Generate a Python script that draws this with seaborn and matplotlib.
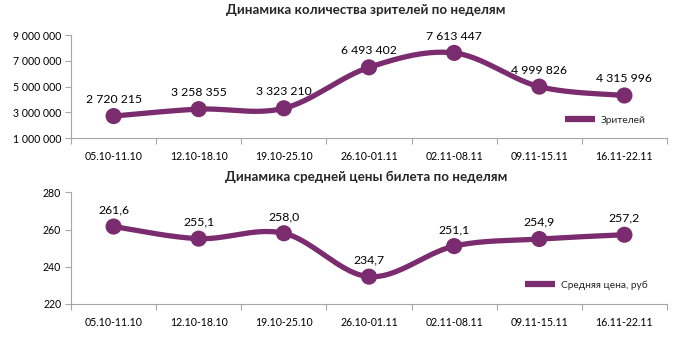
import numpy as np
import pandas as pd
import matplotlib
matplotlib.use("Agg")
import matplotlib.pyplot as plt
import seaborn as sns
from matplotlib.ticker import FuncFormatter, FixedLocator

weeks = ["05.10-11.10", "12.10-18.10", "19.10-25.10", "26.10-01.11",
         "02.11-08.11", "09.11-15.11", "16.11-22.11"]
viewers = [2720215, 3258355, 3323210, 6493402, 7613447, 4999826, 4315996]
prices = [261.6, 255.1, 258.0, 234.7, 251.1, 254.9, 257.2]

title_top = "Динамика количества зрителей по неделям"
title_bottom = "Динамика средней цены билета по неделям"
legend_top = "Зрителей"
legend_bottom = "Средняя цена, руб"

sns.set_theme(style="white")
plt.rcParams['font.family'] = ['Lato', 'DejaVu Sans']

COLOR = "#7A2C6F"
AX_COLOR = "#A6A6A6"


def catmull_rom(xs, ys, n=30):
    xs = np.asarray(xs, float)
    ys = np.asarray(ys, float)
    P = np.column_stack([xs, ys])
    P = np.vstack([P[0], P, P[-1]])
    out = []
    for i in range(1, len(P) - 2):
        p0, p1, p2, p3 = P[i - 1], P[i], P[i + 1], P[i + 2]
        t = np.linspace(0, 1, n)[:, None]
        c = 0.5 * ((2 * p1) + (-p0 + p2) * t + (2 * p0 - 5 * p1 + 4 * p2 - p3) * t ** 2
                   + (-p0 + 3 * p1 - 3 * p2 + p3) * t ** 3)
        out.append(c if i == len(P) - 3 else c[:-1])
    c = np.vstack(out)
    return c[:, 0], c[:, 1]


fig = plt.figure(figsize=(6.85, 3.38), dpi=100)
W, H = 685, 338
left, right = 71 / W, 667 / W
ax1 = fig.add_axes([left, 1 - 138.3 / H, right - left, (138.3 - 35) / H])
ax2 = fig.add_axes([left, 1 - 304 / H, right - left, (304 - 192.3) / H])


def draw(ax, vals, ylim, yticks, fmt, lab_fmt, leg, leg_pos, yoff):
    x = np.arange(len(weeks))
    sx, sy = catmull_rom(x, vals)
    curve = pd.DataFrame({"x": sx, "y": sy})
    pts = pd.DataFrame({"x": x, "y": vals})
    sns.lineplot(data=curve, x="x", y="y", ax=ax, color=COLOR, lw=3.8,
                 sort=False, estimator=None, label=leg, solid_capstyle="round")
    sns.scatterplot(data=pts, x="x", y="y", ax=ax, color=COLOR, s=135,
                    edgecolor="none", zorder=5, legend=False)
    for xi, v in zip(x, vals):
        ax.annotate(lab_fmt(v), (xi, v), xytext=(0, yoff), textcoords="offset points",
                    ha="center", va="bottom", fontsize=8.8, color="#000000")
    ax.set_xlim(-0.5, len(weeks) - 0.5)
    ax.set_ylim(*ylim)
    ax.set_yticks(yticks)
    ax.yaxis.set_major_formatter(FuncFormatter(fmt))
    ax.set_xticks(x)
    ax.set_xticklabels(weeks)
    ax.xaxis.set_minor_locator(FixedLocator(np.arange(-0.5, len(weeks), 1.0)))
    ax.tick_params(axis="x", which="major", length=0, pad=9, labelsize=7.6, colors="#000000")
    ax.tick_params(axis="x", which="minor", length=4, width=0.8, color=AX_COLOR, bottom=True)
    ax.tick_params(axis="y", length=4, width=0.8, color=AX_COLOR, labelsize=7.6,
                   labelcolor="#000000", left=True, pad=3)
    for s in ["top", "right"]:
        ax.spines[s].set_visible(False)
    for s in ["left", "bottom"]:
        ax.spines[s].set_color(AX_COLOR)
        ax.spines[s].set_linewidth(0.8)
    ax.set_xlabel("")
    ax.set_ylabel("")
    ax.grid(False)
    ax.set_facecolor("none")
    lg = ax.legend(loc="lower left", bbox_to_anchor=leg_pos, frameon=False,
                   fontsize=7.3, handlelength=3.0, handletextpad=0.5, borderpad=0)
    for h in lg.get_lines():
        h.set_linewidth(4.5)
        h.set_solid_capstyle("butt")


space_fmt = lambda v, p=None: f"{int(v):,}".replace(",", " ")
draw(ax1, viewers, (1_000_000, 9_000_000), [1e6, 3e6, 5e6, 7e6, 9e6],
     space_fmt, lambda v: f"{v:,}".replace(",", " "), legend_top,
     ((560 - 71) / 596, 0.08), 8)
draw(ax2, prices, (220, 280), [220, 240, 260, 280],
     lambda v, p=None: f"{int(v)}", lambda v: f"{v:.1f}".replace(".", ","),
     legend_bottom, ((520 - 71) / 596, 0.08), 8)

fig.text(366 / W, 1 - 10 / H, title_top, ha="center", va="center",
         fontsize=9.6, fontweight="bold")
fig.text(366 / W, 1 - 177 / H, title_bottom, ha="center", va="center",
         fontsize=9.6, fontweight="bold")

fig.savefig("out.png", dpi=100, facecolor="white")
